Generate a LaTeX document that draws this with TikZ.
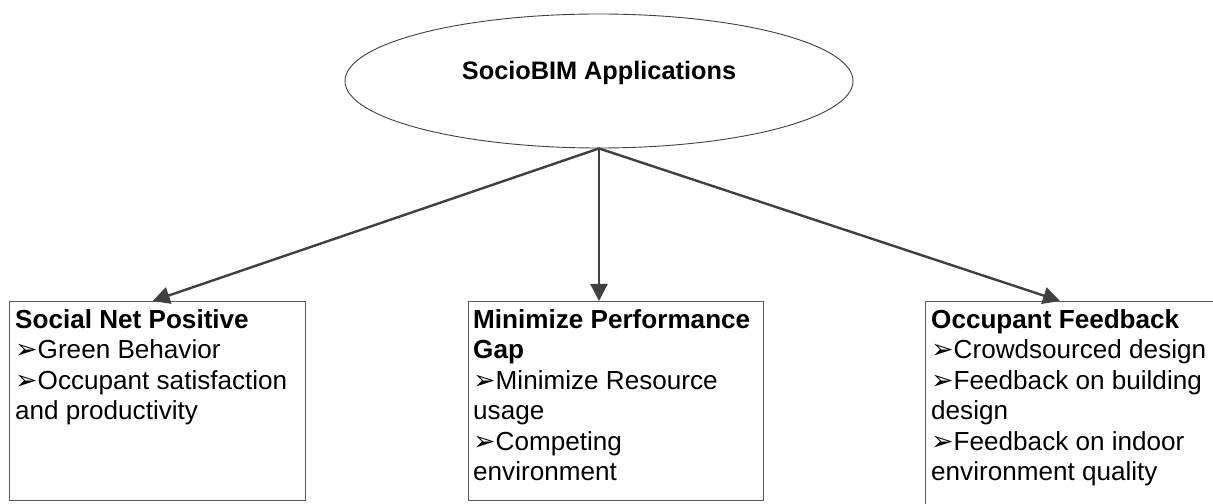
\documentclass[tikz,border=0pt]{standalone}
\usepackage{fontspec}
\setmainfont{Liberation Sans}
\newfontfamily\dingfont{DejaVu Sans}
\usetikzlibrary{positioning,arrows.meta,shapes.geometric}
\definecolor{EdgeGray}{RGB}{64,64,64}
\definecolor{BoxGray}{RGB}{90,90,90}
\newcommand{\pt}{{\dingfont\fontsize{27}{27}\selectfont ➢}}
\tikzset{
  flow/.style={-{Triangle[length=17bp,width=17bp]},line width=2.4bp,draw=EdgeGray},
  appnode/.style={ellipse,draw=EdgeGray,line width=0.9bp,inner sep=0pt,
    minimum width=508bp,minimum height=134bp,text depth=22bp,
    font=\fontsize{25.4}{30.6}\selectfont\bfseries},
  areabox/.style={rectangle,draw=BoxGray,line width=1.3bp,inner sep=0pt,
    anchor=north west},
  areatext/.style={anchor=north west,inner sep=0pt,align=left,
    font=\fontsize{26.2}{30.6}\selectfont}
}
\begin{document}
\begin{tikzpicture}[x=1bp,y=-1bp]
  \clip (0,0) rectangle (1213,504);
  \node[appnode] (apps) at (599,81) {SocioBIM Applications};
  % three application areas
  \node[areabox,minimum width=296bp,minimum height=199bp] (social) at (9,301) {};
  \node[areabox,minimum width=295bp,minimum height=199bp] (gap) at (468,301) {};
  \node[areabox,minimum width=310bp,minimum height=230bp] (feedback) at (925,301) {};
  \node[areatext] (socialtxt) at ([xshift=6bp,yshift=-8bp]social.north west) {
    \textbf{Social Net Positive}\\
    \pt Green Behavior\\
    \pt Occupant satisfaction\\
    and productivity
  };
  \node[areatext] (gaptxt) at ([xshift=5bp,yshift=-8bp]gap.north west) {
    \textbf{Minimize Performance}\\
    \textbf{Gap}\\
    \pt Minimize Resource\\
    usage\\
    \pt Competing\\
    environment
  };
  \node[areatext] (feedbacktxt) at ([xshift=6bp,yshift=-8bp]feedback.north west) {
    \textbf{Occupant Feedback}\\
    \pt Crowdsourced design\\
    \pt Feedback on building\\
    design\\
    \pt Feedback on indoor\\
    environment quality
  };
  \coordinate (feedbackin) at ([xshift=135bp]feedback.north west);
  \draw[flow] (apps.south) -- ([xshift=-5bp]social.north);
  \draw[flow] (apps.south) -- (apps.south |- gap.north);
  \draw[flow] (apps.south) -- (feedbackin);
\end{tikzpicture}
\end{document}
